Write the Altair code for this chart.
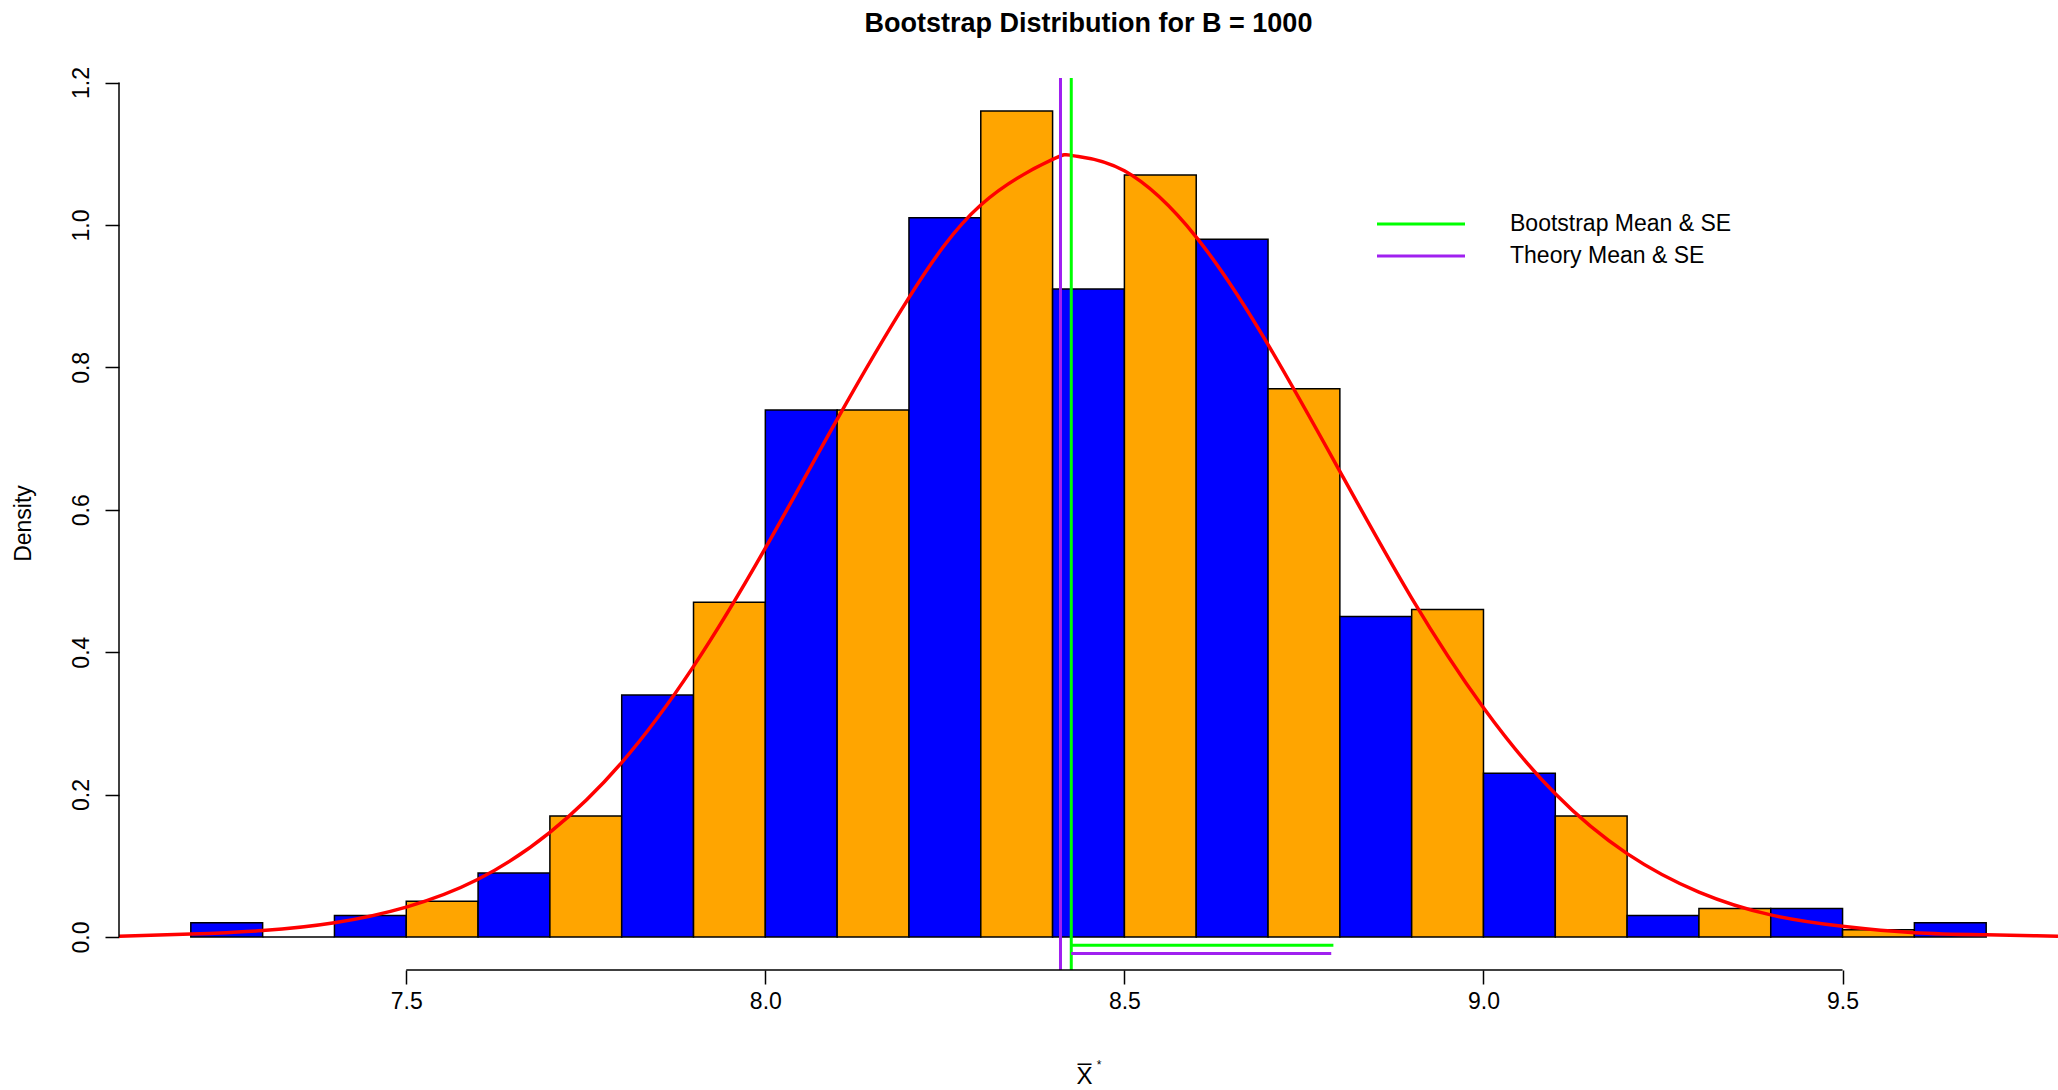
import altair as alt
import pandas as pd

# ---------------- data ----------------
chart_title = "Bootstrap Distribution for B = 1000"
x_title = "X\u0305"
y_title = "Density"

bin_edges = [7.2, 7.3, 7.4, 7.5, 7.6, 7.7, 7.8, 7.9, 8.0, 8.1, 8.2, 8.3, 8.4,
             8.5, 8.6, 8.7, 8.8, 8.9, 9.0, 9.1, 9.2, 9.3, 9.4, 9.5, 9.6, 9.7]
densities = [0.02, 0.00, 0.03, 0.05, 0.09, 0.17, 0.34, 0.47, 0.74, 0.74, 1.01,
             1.16, 0.91, 1.07, 0.98, 0.77, 0.45, 0.46, 0.23, 0.17, 0.03, 0.04,
             0.04, 0.01, 0.02]
bar_palette = ["#0000FF", "#FFA500"]  # alternating blue / orange

curve_x = [7.10, 7.20, 7.30, 7.40, 7.50, 7.60, 7.70, 7.80, 7.90, 8.00, 8.10,
           8.20, 8.30, 8.40, 8.43, 8.50, 8.60, 8.70, 8.80, 8.90, 9.00, 9.10,
           9.20, 9.30, 9.40, 9.50, 9.60, 9.70, 9.80]
curve_y = [0.001, 0.004, 0.009, 0.020, 0.042, 0.081, 0.147, 0.245, 0.380,
           0.546, 0.727, 0.898, 1.028, 1.092, 1.097, 1.076, 0.983, 0.832,
           0.654, 0.476, 0.322, 0.201, 0.117, 0.063, 0.031, 0.015, 0.006,
           0.003, 0.001]

series_names = ["Bootstrap Mean & SE", "Theory Mean & SE"]
series_colors = ["#00FF00", "#A020F0"]
mean_values = [8.426, 8.411]
se_start = [8.426, 8.426]
se_end = [8.791, 8.788]
se_level = [-0.0117, -0.0233]

x_ticks = [7.5, 8.0, 8.5, 9.0, 9.5]
y_ticks = [0.0, 0.2, 0.4, 0.6, 0.8, 1.0, 1.2]
x_domain = [7.1, 9.8]
y_domain = [-0.0464, 1.2064]

# ---------------- tables ----------------
bars_df = pd.DataFrame({
    "x0": bin_edges[:-1],
    "x1": bin_edges[1:],
    "density": densities,
    "color": [bar_palette[i % 2] for i in range(len(densities))],
})
curve_df = pd.DataFrame({"x": curve_x, "y": curve_y})
vlines_df = pd.DataFrame({"series": series_names, "mean": mean_values})
hlines_df = pd.DataFrame({"series": series_names, "start": se_start,
                          "end": se_end, "level": se_level})
axis_lines_df = pd.DataFrame({
    "x": [x_domain[0], x_ticks[0]],
    "x2": [x_domain[0], x_ticks[-1]],
    "y": [y_ticks[0], y_domain[0]],
    "y2": [y_ticks[-1], y_domain[0]],
})

FONT = "Liberation Sans"
W, H = 1939, 892

x_scale = alt.Scale(domain=x_domain, nice=False, zero=False)
y_scale = alt.Scale(domain=y_domain, nice=False, zero=False)

x_axis = alt.Axis(
    values=x_ticks, format=".1f", domain=False, grid=False,
    tickSize=14, tickColor="black", tickWidth=1.5,
    labelFont=FONT, labelFontSize=23, labelColor="black",
    labelBaseline="alphabetic", labelPadding=24, labelFlush=False,
    labelOverlap=False,
    title=x_title, titleFont=FONT, titleFontSize=24,
    titleFontWeight="normal", titleColor="black",
    titleX=965, titleY=113, titleAlign="center", titleBaseline="alphabetic",
)
y_axis = alt.Axis(
    values=y_ticks, format=".1f", domain=False, grid=False,
    tickSize=14, tickColor="black", tickWidth=1.5,
    labelFont=FONT, labelFontSize=23, labelColor="black",
    labelAngle=270, labelAlign="center", labelBaseline="alphabetic",
    labelPadding=17, labelFlush=False, labelOverlap=False,
    title=y_title, titleFont=FONT, titleFontSize=23,
    titleFontWeight="normal", titleColor="black", titleAngle=270,
    titleX=-89, titleY=445, titleAlign="center", titleBaseline="alphabetic",
)


def X(field):
    return alt.X(field, type="quantitative", scale=x_scale, axis=x_axis)


def Y(field):
    return alt.Y(field, type="quantitative", scale=y_scale, axis=y_axis)


color_enc = alt.Color(
    "series:N",
    scale=alt.Scale(domain=series_names, range=series_colors),
    legend=alt.Legend(
        orient="none", legendX=1289.5, legendY=133.5, title=None,
        symbolType="M-4,0H4", symbolSize=484, symbolStrokeWidth=3,
        labelFont=FONT, labelFontSize=23, labelColor="black",
        labelOffset=76.5, labelLimit=0, rowPadding=7, padding=0,
    ),
)

bars = alt.Chart(bars_df).mark_rect(stroke="black", strokeWidth=1.5).encode(
    x=X("x0"), x2="x1:Q", y=Y("density"), y2=alt.datum(0),
    fill=alt.Fill("color:N", scale=None),
)

curve = alt.Chart(curve_df).mark_line(
    color="#FF0000", strokeWidth=3.5, interpolate="natural", clip=True
).encode(x=X("x"), y=Y("y"))

vlines = alt.Chart(vlines_df).mark_rule(strokeWidth=3).encode(
    x=X("mean"), color=color_enc,
)

hlines = alt.Chart(hlines_df).mark_rule(strokeWidth=3).encode(
    x=X("start"), x2="end:Q", y=Y("level"), color=color_enc,
)

axis_lines = alt.Chart(axis_lines_df).mark_rule(
    color="black", strokeWidth=1.5
).encode(x=X("x"), x2="x2:Q", y=Y("y"), y2="y2:Q")

asterisk = alt.Chart(pd.DataFrame({"t": ["*"]})).mark_text(
    font=FONT, fontSize=12, color="black", baseline="alphabetic",
    align="center",
).encode(text="t:N", x=alt.value(980), y=alt.value(991))

chart = alt.layer(bars, curve, vlines, hlines, axis_lines, asterisk).properties(
    width=W, height=H,
    title=alt.TitleParams(
        chart_title, font=FONT, fontSize=27, fontWeight="bold",
        color="black", anchor="middle", offset=29,
    ),
    background="white",
    autosize=alt.AutoSizeParams(type="none"),
    padding={"left": 119, "top": 78, "right": 0, "bottom": 120},
).configure_view(strokeWidth=0, stroke="transparent")

chart.save("out.html", embed_options={"renderer": "svg", "actions": False})
